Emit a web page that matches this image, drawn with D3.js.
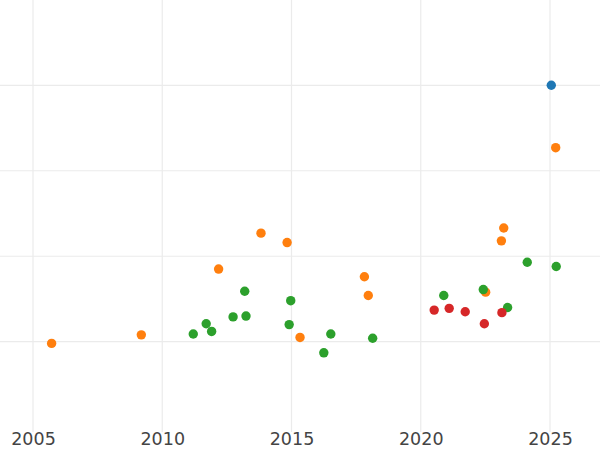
<!DOCTYPE html>
<html>
<head>
<meta charset="utf-8">
<script src="https://cdn.jsdelivr.net/npm/d3@7"></script>
<style>
  html, body { margin: 0; padding: 0; background: #fff; }
  svg { display: block; }
</style>
</head>
<body>
<div id="chart"></div>
<script>
// ---- Data ----
const xTicks = [2005, 2010, 2015, 2020, 2025];
const yGrid = [0, 1, 2, 3];

const blueX = [2025.05];
const blueY = [3.0];

const orangeX = [2005.72, 2009.19, 2012.18, 2013.82, 2014.83, 2015.33, 2017.82, 2017.97, 2022.51, 2023.12, 2023.21, 2025.22];
const orangeY = [-0.02, 0.08, 0.85, 1.27, 1.16, 0.05, 0.76, 0.54, 0.58, 1.18, 1.33, 2.27];

const greenX = [2011.20, 2011.70, 2011.91, 2012.74, 2013.19, 2013.24, 2014.97, 2014.91, 2016.52, 2016.25, 2018.14, 2020.89, 2022.42, 2023.36, 2024.12, 2025.24];
const greenY = [0.09, 0.21, 0.12, 0.29, 0.59, 0.30, 0.48, 0.20, 0.09, -0.13, 0.04, 0.54, 0.61, 0.40, 0.93, 0.88];

const redX = [2020.52, 2021.10, 2021.72, 2022.46, 2023.14];
const redY = [0.37, 0.39, 0.35, 0.21, 0.34];

const seriesNames = ["blue", "orange", "green", "red"];
const seriesColors = ["#1f77b4", "#ff7f0e", "#2ca02c", "#d62728"];
const seriesX = [blueX, orangeX, greenX, redX];
const seriesY = [blueY, orangeY, greenY, redY];

// ---- Layout ----
const W = 600, H = 450;
const plotTop = 0, plotBottom = 432;

const x = d3.scaleLinear().domain([2005, 2025]).range([33, 550]);
const y = d3.scaleLinear().domain([0, 3]).range([341.7, 85.3]);

const svg = d3.select("#chart").append("svg")
  .attr("width", W).attr("height", H);

// Vertical gridlines
svg.append("g").selectAll("line").data(xTicks).join("line")
  .attr("x1", d => x(d)).attr("x2", d => x(d))
  .attr("y1", plotTop).attr("y2", plotBottom)
  .attr("stroke", "#ebebeb").attr("stroke-width", 1.2);

// Horizontal gridlines
svg.append("g").selectAll("line").data(yGrid).join("line")
  .attr("x1", 0).attr("x2", W)
  .attr("y1", d => y(d)).attr("y2", d => y(d))
  .attr("stroke", "#ebebeb").attr("stroke-width", 1.2);

// X axis labels via d3 axis
const xAxis = d3.axisBottom(x).tickValues(xTicks).tickFormat(d3.format("d")).tickSize(0).tickPadding(0);
const gx = svg.append("g").attr("transform", `translate(0, 433)`).call(xAxis);
gx.select(".domain").remove();
gx.selectAll("text")
  .attr("font-family", "DejaVu Sans, sans-serif")
  .attr("font-size", 17.5)
  .attr("fill", "#444")
  .attr("dy", "0.71em");

// Points
seriesNames.forEach((name, i) => {
  const pts = seriesX[i].map((xv, j) => ({ x: xv, y: seriesY[i][j] }));
  svg.append("g").attr("class", "series-" + name)
    .selectAll("circle").data(pts).join("circle")
    .attr("cx", d => x(d.x))
    .attr("cy", d => y(d.y))
    .attr("r", 4.7)
    .attr("fill", seriesColors[i]);
});
</script>
</body>
</html>
